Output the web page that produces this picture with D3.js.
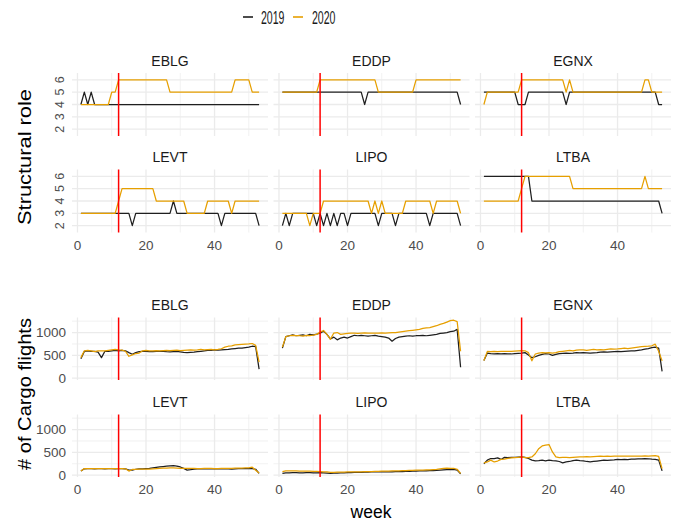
<!DOCTYPE html>
<html><head><meta charset="utf-8">
<script src="https://cdn.jsdelivr.net/npm/d3@7"></script>
<style>body{margin:0;background:#fff}text{font-family:"Liberation Sans",Arial,sans-serif}</style>
</head><body>
<svg id="chart" width="680" height="523"></svg>
<script>
const airports = ["EBLG","EDDP","EGNX","LEVT","LIPO","LTBA"];
const years = ["2019","2020"];
const weeks = d3.range(1, 54);
const xTicks = [0, 20, 40];
const xMinor = [10, 30, 50];
const roleTicks = [2, 3, 4, 5, 6];
const cargoTicks = [0, 500, 1000];
const cargoMinor = [250, 750, 1250];
const lockdownWeek = 12;

// Structural role (weekly), 2019 and 2020
const role2019_EBLG = [4,5,4,5,4,4,4,4,4,4,4,4,4,4,4,4,4,4,4,4,4,4,4,4,4,4,4,4,4,4,4,4,4,4,4,4,4,4,4,4,4,4,4,4,4,4,4,4,4,4,4,4,4];
const role2020_EBLG = [4,4,4,4,4,4,4,4,4,5,5,6,6,6,6,6,6,6,6,6,6,6,6,6,6,6,5,5,5,5,5,5,5,5,5,5,5,5,5,5,5,5,5,5,5,6,6,6,6,6,5,5,5];
const role2019_EDDP = [5,5,5,5,5,5,5,5,5,5,5,5,5,5,5,5,5,5,5,5,5,5,5,5,4,5,5,5,5,5,5,5,5,5,5,5,5,5,5,5,5,5,5,5,5,5,5,5,5,5,5,5,4];
const role2020_EDDP = [5,5,5,5,5,5,5,5,5,5,5,6,6,6,6,6,6,6,6,6,6,6,6,6,6,6,6,6,5,5,5,5,5,5,5,5,5,5,5,6,6,6,6,6,6,6,6,6,6,6,6,6,6];
const role2019_EGNX = [5,5,5,5,5,5,5,5,5,5,4,4,4,5,5,5,5,5,5,5,5,5,5,5,4,5,5,5,5,5,5,5,5,5,5,5,5,5,5,5,5,5,5,5,5,5,5,5,5,5,5,4,4];
const role2020_EGNX = [4,5,5,5,5,5,5,5,5,5,5,6,6,6,6,6,6,6,6,6,6,6,6,6,5,6,5,5,5,5,5,5,5,5,5,5,5,5,5,5,5,5,5,5,5,5,5,6,6,5,5,5,5];
const role2019_LEVT = [3,3,3,3,3,3,3,3,3,3,3,3,3,3,3,2,3,3,3,3,3,3,3,3,3,3,3,4,3,3,3,3,3,3,3,3,3,3,3,3,3,2,3,3,3,3,3,3,3,3,3,3,2];
const role2020_LEVT = [3,3,3,3,3,3,3,3,3,3,3,4,5,5,5,5,5,5,5,5,5,5,4,4,4,4,4,4,4,4,4,3,3,3,3,3,3,4,4,4,4,4,4,4,3,4,4,4,4,4,4,4,4];
const role2019_LIPO = [2,3,2,3,3,3,3,3,3,3,2,3,2,3,2,3,2,3,3,2,3,3,3,3,3,3,3,3,2,3,3,3,3,2,3,3,3,3,3,3,3,3,3,2,3,3,3,3,3,3,3,3,2];
const role2020_LIPO = [3,3,3,3,3,3,3,3,2,3,3,3,4,4,4,4,4,4,4,4,4,4,4,4,4,4,3,4,3,4,3,3,3,3,3,3,4,4,4,4,4,4,4,4,3,4,4,4,4,4,4,4,3];
const role2019_LTBA = [6,6,6,6,6,6,6,6,6,6,6,6,6,6,4,4,4,4,4,4,4,4,4,4,4,4,4,4,4,4,4,4,4,4,4,4,4,4,4,4,4,4,4,4,4,4,4,4,4,4,4,4,3];
const role2020_LTBA = [4,4,4,4,4,4,4,4,4,4,4,5,6,6,6,6,6,6,6,6,6,6,6,6,6,6,5,5,5,5,5,5,5,5,5,5,5,5,5,5,5,5,5,5,5,5,5,6,5,5,5,5,5];

// Number of cargo flights (weekly), 2019 and 2020
const cargo2019_EBLG = [425,585,600,590,585,570,450,590,590,600,610,600,610,600,560,525,560,580,590,585,580,580,585,590,590,580,575,580,585,575,565,560,565,570,580,590,600,610,610,620,615,620,625,630,640,650,660,660,670,680,700,690,200];
const cargo2020_EBLG = [450,600,610,600,580,600,600,600,610,620,630,620,615,590,480,510,540,550,600,610,600,600,605,600,605,610,605,610,615,605,610,615,620,615,620,630,620,625,630,620,630,645,680,700,710,730,735,740,745,750,760,720,350];
const cargo2019_EDDP = [660,910,930,950,930,940,950,930,960,950,965,985,1030,960,860,900,840,880,900,880,910,940,930,940,930,920,930,940,920,910,900,880,810,870,900,910,920,930,920,930,935,940,930,940,950,960,980,990,1000,1020,1030,1070,240];
const cargo2020_EDDP = [680,910,930,940,935,930,920,940,935,945,960,1010,1045,960,850,990,1000,960,970,980,990,985,980,990,995,990,985,990,990,995,990,995,1000,1000,1010,1020,1030,1040,1050,1060,1070,1090,1100,1110,1130,1150,1180,1200,1230,1260,1270,1240,590];
const cargo2019_EGNX = [385,550,540,535,540,535,540,535,530,540,545,550,560,510,450,470,500,520,540,530,500,520,540,545,550,545,550,560,555,560,555,550,555,560,570,575,570,575,580,585,580,590,595,600,600,610,620,635,650,670,680,660,150];
const cargo2020_EGNX = [385,585,580,590,580,585,590,585,590,595,600,605,600,560,380,530,550,560,555,560,550,560,580,590,600,610,600,615,620,620,610,620,630,620,625,620,630,640,635,640,650,660,650,660,670,680,690,695,700,710,745,590,380];
const cargo2019_LEVT = [90,140,145,145,140,145,145,140,145,145,140,145,145,140,110,110,130,140,140,145,150,160,170,180,190,200,205,210,200,180,150,110,120,135,140,140,140,145,140,140,145,140,140,140,130,140,145,145,145,145,145,130,40];
const cargo2020_LEVT = [90,145,145,145,145,145,145,145,145,145,145,145,145,140,90,125,125,130,130,130,135,140,145,150,155,155,160,160,155,150,150,150,150,150,145,145,150,150,150,145,145,150,150,150,150,155,155,155,160,160,175,110,50];
const cargo2019_LIPO = [40,50,50,55,55,50,50,55,55,50,50,55,50,45,40,45,45,50,50,55,55,60,60,60,65,65,70,70,70,75,75,75,70,80,80,80,85,85,90,90,95,95,95,100,100,105,110,115,120,120,125,110,30];
const cargo2020_LIPO = [80,95,95,95,95,90,90,90,90,85,85,80,75,70,60,60,65,65,65,70,70,70,75,75,80,80,80,85,85,90,90,90,95,95,95,100,100,105,105,110,110,110,115,115,120,125,140,150,155,150,150,130,40];
const cargo2019_LTBA = [250,330,365,365,380,345,390,385,390,390,395,400,390,365,330,315,320,330,315,330,320,315,300,270,290,300,320,330,320,315,300,290,300,310,320,330,325,330,335,345,340,345,340,350,350,355,360,365,360,350,345,330,95];
const cargo2020_LTBA = [270,290,330,290,310,345,350,370,380,385,390,400,385,385,400,470,580,640,660,670,510,400,385,390,390,385,390,395,400,400,405,400,405,410,415,410,415,410,415,415,420,415,420,420,420,415,420,425,420,425,430,410,145];

const roleData = {
  EBLG: [role2019_EBLG, role2020_EBLG], EDDP: [role2019_EDDP, role2020_EDDP], EGNX: [role2019_EGNX, role2020_EGNX],
  LEVT: [role2019_LEVT, role2020_LEVT], LIPO: [role2019_LIPO, role2020_LIPO], LTBA: [role2019_LTBA, role2020_LTBA]
};
const cargoData = {
  EBLG: [cargo2019_EBLG, cargo2020_EBLG], EDDP: [cargo2019_EDDP, cargo2020_EDDP], EGNX: [cargo2019_EGNX, cargo2020_EGNX],
  LEVT: [cargo2019_LEVT, cargo2020_LEVT], LIPO: [cargo2019_LIPO, cargo2020_LIPO], LTBA: [cargo2019_LTBA, cargo2020_LTBA]
};

const colors = {"2019": "#1f1f1f", "2020": "#E69F00"};
const grid = "#ebebeb";
const tickCol = "#4d4d4d";
const stripCol = "#1a1a1a";

const svg = d3.select("#chart");
svg.append("rect").attr("width", 680).attr("height", 523).attr("fill", "#fff");

const colX = [72, 273.5, 475];
const panelW = 196;
const x = d3.scaleLinear().domain([-1.6, 55.6]).range([0, panelW]);

const blocks = [
  {rows: [73, 169.5], h: 63, domain: [1.45, 6.55], data: roleData, ticks: roleTicks, minor: [], rotated: true, title: "Structural role", titleY: 157, titleLen: 136},
  {rows: [317.5, 414.5], h: 62.5, domain: [-40, 1330], data: cargoData, ticks: cargoTicks, minor: cargoMinor, rotated: false, title: "# of Cargo flights", titleY: 394, titleLen: 152}
];

blocks.forEach(b => {
  const y = d3.scaleLinear().domain(b.domain).range([b.h, 0]);
  airports.forEach((ap, i) => {
    const r = Math.floor(i / 3), c = i % 3;
    const g = svg.append("g").attr("transform", `translate(${colX[c]},${b.rows[r]})`);
    g.selectAll(".vmin").data(xMinor).enter().append("line")
      .attr("x1", d => x(d)).attr("x2", d => x(d)).attr("y1", 0).attr("y2", b.h)
      .attr("stroke", grid).attr("stroke-width", 0.7);
    g.selectAll(".hmin").data(b.minor).enter().append("line")
      .attr("x1", 0).attr("x2", panelW).attr("y1", d => y(d)).attr("y2", d => y(d))
      .attr("stroke", grid).attr("stroke-width", 0.7);
    g.selectAll(".vmaj").data(xTicks).enter().append("line")
      .attr("x1", d => x(d)).attr("x2", d => x(d)).attr("y1", 0).attr("y2", b.h)
      .attr("stroke", grid).attr("stroke-width", 1.3);
    g.selectAll(".hmaj").data(b.ticks).enter().append("line")
      .attr("x1", 0).attr("x2", panelW).attr("y1", d => y(d)).attr("y2", d => y(d))
      .attr("stroke", grid).attr("stroke-width", 1.3);
    g.append("text").attr("x", panelW / 2).attr("y", -7.5).attr("text-anchor", "middle")
      .attr("font-size", 14).attr("fill", stripCol).text(ap);
    if (c === 0) {
      if (b.rotated) {
        g.selectAll(".yl").data(b.ticks).enter().append("text")
          .attr("transform", d => `translate(-8,${y(d)}) rotate(-90)`)
          .attr("text-anchor", "middle").attr("font-size", 12.5).attr("fill", tickCol)
          .text(d => d);
      } else {
        g.selectAll(".yl").data(b.ticks).enter().append("text")
          .attr("x", -6).attr("y", d => y(d)).attr("dy", "0.36em")
          .attr("text-anchor", "end").attr("font-size", 13.5).attr("fill", tickCol)
          .text(d => d);
      }
    }
    if (r === 1) {
      g.selectAll(".xl").data(xTicks).enter().append("text")
        .attr("x", d => x(d)).attr("y", b.h + 17).attr("text-anchor", "middle")
        .attr("font-size", 13.5).attr("fill", tickCol).text(d => d);
    }
    const line = d3.line().x((d, k) => x(weeks[k])).y(d => y(d));
    b.data[ap].forEach((series, k) => {
      g.append("path").datum(series).attr("d", line).attr("fill", "none")
        .attr("stroke", colors[years[k]]).attr("stroke-width", 1.25).attr("stroke-linejoin", "round");
    });
    g.append("line").attr("x1", x(lockdownWeek)).attr("x2", x(lockdownWeek))
      .attr("y1", 0).attr("y2", b.h).attr("stroke", "#ff0000").attr("stroke-width", 1.5);
  });
  svg.append("text").attr("transform", `translate(31,${b.titleY}) rotate(-90)`)
    .attr("text-anchor", "middle").attr("font-size", 18).attr("fill", "#000")
    .attr("textLength", b.titleLen).attr("lengthAdjust", "spacingAndGlyphs")
    .text(b.title);
});

svg.append("text").attr("x", 371).attr("y", 518).attr("text-anchor", "middle")
  .attr("font-size", 17.5).attr("fill", "#000").text("week");

const leg = svg.append("g");
const legItems = [{yr: "2019", lx: 243, tx: 261}, {yr: "2020", lx: 293, tx: 312}];
legItems.forEach(it => {
  leg.append("line").attr("x1", it.lx).attr("x2", it.lx + 10).attr("y1", 17).attr("y2", 17)
    .attr("stroke", colors[it.yr]).attr("stroke-width", 1.6);
  leg.append("text").attr("x", it.tx).attr("y", 23.5).attr("font-size", 18.5).attr("fill", "#1a1a1a")
    .attr("textLength", 23.5).attr("lengthAdjust", "spacingAndGlyphs").text(it.yr);
});
</script>
</body></html>
